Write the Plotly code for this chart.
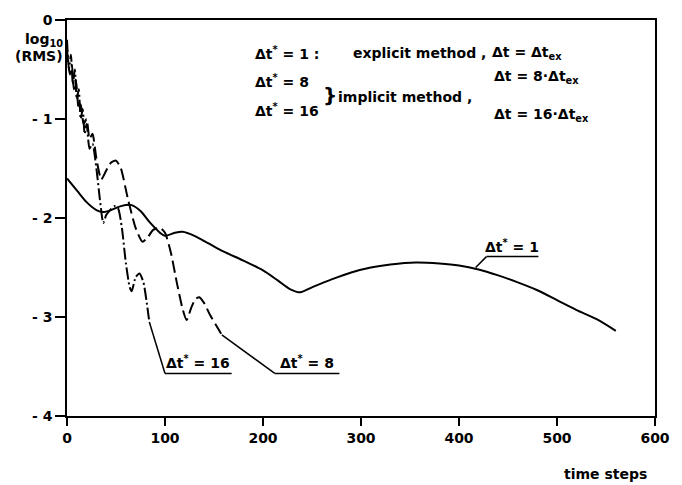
import plotly.graph_objects as go

# ---- data ----
x_dt1 = [0, 10, 20, 30, 37, 45, 55, 66, 75, 85, 95, 100, 110, 118, 130, 145, 160, 180, 200, 215,
         228, 238, 250, 270, 290, 310, 330, 356, 380, 400, 420, 440, 460, 480, 500, 520, 540, 560]
y_dt1 = [-1.6, -1.72, -1.84, -1.92, -1.94, -1.92, -1.88, -1.87, -1.93, -2.05, -2.15, -2.18, -2.15,
         -2.14, -2.18, -2.26, -2.34, -2.43, -2.53, -2.63, -2.72, -2.75, -2.70, -2.62, -2.55, -2.5,
         -2.47, -2.45, -2.46, -2.48, -2.52, -2.58, -2.65, -2.73, -2.83, -2.93, -3.02, -3.14]

x_dt8 = [0, 3, 5, 7, 9, 12, 14, 17, 20, 23, 26, 30, 35, 40, 45, 50, 55, 62, 70, 77, 82, 88, 95,
         100, 106, 112, 118, 122, 127, 131, 135, 140, 146, 152, 158]
y_dt8 = [-0.3, -0.55, -0.45, -0.7, -0.6, -0.9, -0.85, -1.05, -1.0, -1.2, -1.15, -1.4, -1.61, -1.52,
         -1.44, -1.42, -1.5, -1.8, -2.1, -2.24, -2.2, -2.12, -2.1, -2.15, -2.35, -2.65, -2.92, -3.03,
         -2.9, -2.82, -2.8, -2.86, -2.98, -3.08, -3.18]

x_dt16 = [0, 2, 4, 6, 8, 10, 12, 14, 16, 18, 20, 23, 26, 30, 34, 37, 40, 44, 48, 52, 56, 60, 64,
          66, 70, 74, 78, 82, 84]
y_dt16 = [-0.2, -0.5, -0.35, -0.65, -0.5, -0.8, -0.7, -1.0, -0.9, -1.15, -1.05, -1.3, -1.25, -1.5,
          -1.85, -2.05, -1.97, -1.92, -1.88, -1.9, -2.1, -2.45, -2.7, -2.74, -2.6, -2.56, -2.65,
          -2.9, -3.05]

x_ticks = [0, 100, 200, 300, 400, 500, 600]
y_ticks = [0, -1, -2, -3, -4]
y_tick_text = ["0", "- 1", "- 2", "- 3", "- 4"]

FONT = "DejaVu Sans"
fs = dict(size=14, family=FONT, color="black", weight="bold")

fig = go.Figure()
fig.add_trace(go.Scatter(x=x_dt1, y=y_dt1, mode="lines",
                         line=dict(color="black", width=2, shape="spline", smoothing=0.8)))
fig.add_trace(go.Scatter(x=x_dt8, y=y_dt8, mode="lines",
                         line=dict(color="black", width=2, shape="spline", smoothing=0.6,
                                   dash="12px,5px")))
fig.add_trace(go.Scatter(x=x_dt16, y=y_dt16, mode="lines",
                         line=dict(color="black", width=2, shape="spline", smoothing=0.6,
                                   dash="12px,3px,2px,3px")))

shapes = []
annots = []

def leader(x0, y0, xl, xr, yl, text):
    shapes.append(dict(type="line", x0=x0, y0=y0, x1=xl, y1=yl, xref="x", yref="y",
                       line=dict(color="black", width=1.5)))
    shapes.append(dict(type="line", x0=xl, y0=yl, x1=xr, y1=yl, xref="x", yref="y",
                       line=dict(color="black", width=1.5)))
    annots.append(dict(x=(xl + xr) / 2, y=yl, xref="x", yref="y", text=text, showarrow=False,
                       yanchor="bottom", yshift=0, font=fs))

leader(417, -2.50, 428, 481, -2.39, "Δt<sup>*</sup> = 1")
leader(x_dt8[-1], y_dt8[-1], 212, 278, -3.57, "Δt<sup>*</sup> = 8")
leader(x_dt16[-1], y_dt16[-1], 100, 168, -3.57, "Δt<sup>*</sup> = 16")

def txt(x, y, t, xa="left", size=14):
    f = dict(fs)
    f["size"] = size
    annots.append(dict(x=x, y=y, xref="x", yref="y", text=t, showarrow=False,
                       xanchor=xa, yanchor="middle", font=f))

txt(190, -0.33, "Δt<sup>*</sup> = 1 :")
txt(290, -0.33, "explicit method ,")
txt(432, -0.33, "Δt = Δt<sub>ex</sub>")
txt(190, -0.62, "Δt<sup>*</sup> = 8")
txt(190, -0.91, "Δt<sup>*</sup> = 16")
txt(259, -0.76, "}", size=20)
txt(274, -0.78, "implicit method ,")
txt(434, -0.58, "Δt = 8·Δt<sub>ex</sub>")
txt(434, -0.96, "Δt = 16·Δt<sub>ex</sub>")

# axis title pieces
annots.append(dict(x=0, y=-0.2, xref="paper", yref="y", text="log<sub>10</sub>", showarrow=False,
                   xanchor="right", xshift=-2, font=fs))
annots.append(dict(x=0, y=-0.36, xref="paper", yref="y", text="(RMS)", showarrow=False,
                   xanchor="right", xshift=-2, font=fs))
annots.append(dict(x=1, y=0, xref="paper", yref="paper", text="time steps", showarrow=False,
                   xanchor="right", yanchor="top", yshift=-48, xshift=-6, font=fs))

fig.update_layout(
    width=682, height=485,
    margin=dict(l=67, r=25, t=15, b=69),
    paper_bgcolor="white", plot_bgcolor="white",
    showlegend=False,
    shapes=shapes, annotations=annots,
    font=fs,
)
fig.update_xaxes(range=[0, 600], tickvals=x_ticks, ticks="outside", ticklen=8, tickwidth=1.5,
                 tickcolor="black", showline=True, linecolor="black", linewidth=1.5, mirror=True,
                 showgrid=False, zeroline=False, tickfont=fs)
fig.update_yaxes(range=[-4, 0], tickvals=y_ticks, ticktext=y_tick_text, ticks="outside", ticklen=10,
                 tickwidth=1.5, tickcolor="black", showline=True, linecolor="black", linewidth=1.5,
                 mirror=True, showgrid=False, zeroline=False, tickfont=fs)

fig.write_html("out.html", config={"displayModeBar": False},
               post_script="document.body.style.margin='0';document.body.style.overflow='hidden';")
